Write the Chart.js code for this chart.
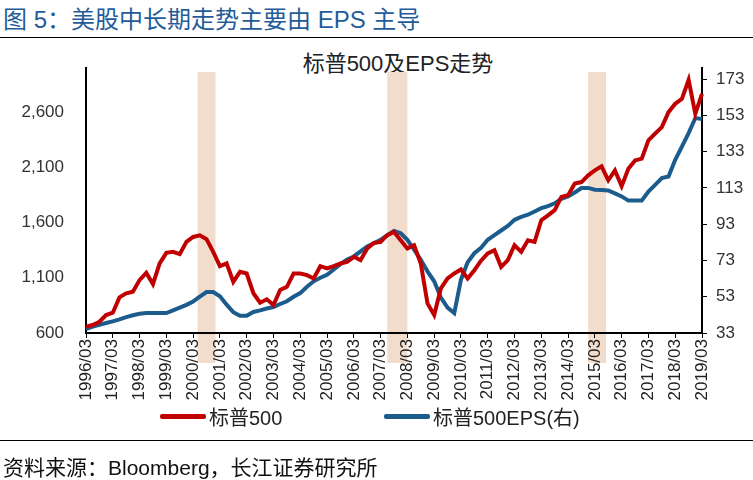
<!DOCTYPE html>
<html>
<head>
<meta charset="utf-8">
<script src="https://cdn.jsdelivr.net/npm/chart.js@4"></script>
<style>
 body { margin: 0; width: 753px; height: 480px; position: relative; background: #fff; overflow: hidden;
  font-family: "Liberation Sans", "Noto Sans CJK SC", sans-serif; }
 #head { position: absolute; left: 3px; top: 0px; font-size: 24px; color: #1f5c99; white-space: nowrap; }
 .rule { position: absolute; left: 0; width: 753px; height: 1px; background: #000; }
 #ctitle { position: absolute; left: 0; width: 796px; top: 45px; text-align: center; font-size: 22px; color: #222; }
 #legend { position: absolute; top: 402px; left: 0; font-size: 20px; color: #222; }
 .item { position: absolute; white-space: nowrap; display: flex; align-items: center; }
 .swatch { display: inline-block; width: 46px; height: 5px; margin-right: 3px; border-radius: 2px; }
 #src { position: absolute; left: 3px; top: 451px; font-size: 21px; color: #111; white-space: nowrap; }
 canvas { position: absolute; left: 0; top: 0; }
</style>
</head>
<body>
<div id="head">图 5：美股中长期走势主要由 EPS 主导</div>
<div class="rule" style="top:37px"></div>
<div id="ctitle">标普500及EPS走势</div>
<canvas id="chart" width="753" height="480"></canvas>
<div id="legend">
 <div class="item" style="left:160px"><span class="swatch" style="background:#c00000"></span>标普500</div>
 <div class="item" style="left:384px"><span class="swatch" style="background:#1b5c8c"></span>标普500EPS(右)</div>
</div>
<div class="rule" style="top:440px"></div>
<div id="src">资料来源：Bloomberg，长江证券研究所</div>
<script>
// Quarterly points, 1996/03 .. 2019/03
const years = [];
for (let y = 1996; y <= 2019; y++) years.push(y);
const months = ["03", "06", "09", "12"];
const labels = [];
years.forEach((y) => months.forEach((m) => { if (y < 2019 || m === "03") labels.push(y + "/" + m); }));

// 标普500 (left axis)
const sp500 = [
 657, 672, 702, 763,
 784, 923, 959, 973,
 1079, 1145, 1043, 1230,
 1326, 1335, 1314, 1425,
 1470, 1485, 1450, 1335,
 1205, 1230, 1064, 1154,
 1139, 960, 874, 905,
 853, 989, 1018, 1139,
 1139, 1124, 1094, 1205,
 1185, 1205, 1230, 1244,
 1290, 1260, 1366, 1416,
 1425, 1486, 1515, 1440,
 1366, 1395, 1230, 868,
 763, 1004, 1094, 1139,
 1175, 1094, 1169, 1255,
 1320, 1350, 1199, 1260,
 1395, 1335, 1440, 1425,
 1621, 1666, 1712, 1832,
 1847, 1953, 1967, 2028,
 2073, 2109, 1983, 2073,
 1930, 2088, 2163, 2179,
 2344, 2405, 2465, 2600,
 2676, 2721, 2893, 2585,
 2766,
];

// 标普500EPS (right axis)
const eps = [
 35.2, 36.5, 37.5, 38.5,
 39.4, 40.5, 41.8, 42.8,
 43.6, 44, 44, 44,
 44, 45.5, 47, 48.5,
 50.4, 53, 55.6, 55.6,
 53.2, 48.6, 44.5, 42.5,
 42.5, 44.6, 45.5, 46.5,
 47.3, 49, 50.5, 53,
 55, 58.5, 61.5, 63.5,
 65.1, 68, 71, 73.5,
 75.2, 78, 80.7, 82.5,
 84.4, 87, 89.3, 88,
 84.4, 79, 73.4, 67,
 61.5, 52.5, 47, 44,
 62.4, 72, 77, 80,
 84.4, 87, 89.5, 92,
 95.4, 97, 98.2, 100,
 101.8, 103, 104.5, 107,
 108.3, 110.5, 112.9, 113,
 112, 111.8, 111.6, 110,
 108.3, 106, 106, 106,
 111, 114.7, 118.4, 119.3,
 128.5, 135.8, 143.2, 151.5,
 151,
];

const leftTicks = [600, 1100, 1600, 2100, 2600];
const rightTicks = [33, 53, 73, 93, 113, 133, 153, 173];

// shaded periods (start, end)
const bands = [["2000/05", "2001/01"], ["2007/06", "2008/03"], ["2014/12", "2015/08"]];

const toIndex = (s) => {
 const [y, m] = s.split("/").map(Number);
 return (y - 1996) * 4 + (m - 3) / 3;
};

const bandPlugin = {
 id: "bands",
 beforeDraw(chart) {
  const { ctx, chartArea } = chart;
  const x = chart.scales.x;
  ctx.save();
  ctx.fillStyle = "#f2dccb";
  bands.forEach(([a, b]) => {
   const x0 = x.getPixelForValue(toIndex(a));
   const x1 = x.getPixelForValue(toIndex(b));
   ctx.fillRect(x0, chartArea.top + 4, x1 - x0, chartArea.bottom + 30 - chartArea.top - 4);
  });
  ctx.restore();
 },
};

const tickFont = { family: "Liberation Sans", size: 17 };

new Chart(document.getElementById("chart"), {
 type: "line",
 data: {
  labels: labels,
  datasets: [
   { label: "标普500", data: sp500, yAxisID: "y", borderColor: "#c00000", borderWidth: 4, pointRadius: 0, tension: 0 },
   { label: "标普500EPS(右)", data: eps, yAxisID: "y2", borderColor: "#1b5c8c", borderWidth: 4, pointRadius: 0, tension: 0 },
  ],
 },
 options: {
  responsive: false,
  animation: false,
  layout: { padding: { top: 68, left: 0, right: 0, bottom: 0 } },
  plugins: { legend: { display: false }, tooltip: { enabled: false } },
  scales: {
   x: {
    offset: false,
    grid: { drawOnChartArea: false, drawTicks: true, tickLength: 5, color: "#000" },
    border: { display: true, color: "#000", width: 2 },
    ticks: { autoSkip: false, minRotation: 90, maxRotation: 90, color: "#222", font: { family: "Liberation Sans", size: 17 }, padding: 1 },
    afterBuildTicks: (scale) => { scale.ticks = scale.ticks.filter((t) => t.value % 4 === 0); },
    afterFit: (scale) => { scale.height = 480 - 333; },
   },
   y: {
    position: "left",
    min: 600,
    max: 3000,
    grid: { drawOnChartArea: false, drawTicks: false },
    border: { display: true, color: "#000", width: 2 },
    ticks: { color: "#333", font: tickFont, padding: 22, callback: (v) => v.toLocaleString("en-US") },
    afterBuildTicks: (scale) => { scale.ticks = leftTicks.map((v) => ({ value: v })); },
    afterFit: (scale) => { scale.width = 86; },
   },
   y2: {
    position: "right",
    min: 33,
    max: 179.1,
    grid: { drawOnChartArea: false, drawTicks: true, tickLength: 5, color: "#000" },
    border: { display: true, color: "#000", width: 2 },
    ticks: { color: "#333", font: tickFont, padding: 9 },
    afterBuildTicks: (scale) => { scale.ticks = rightTicks.map((v) => ({ value: v })); },
    afterFit: (scale) => { scale.width = 753 - 702; },
   },
  },
 },
 plugins: [bandPlugin],
});
</script>
</body>
</html>
